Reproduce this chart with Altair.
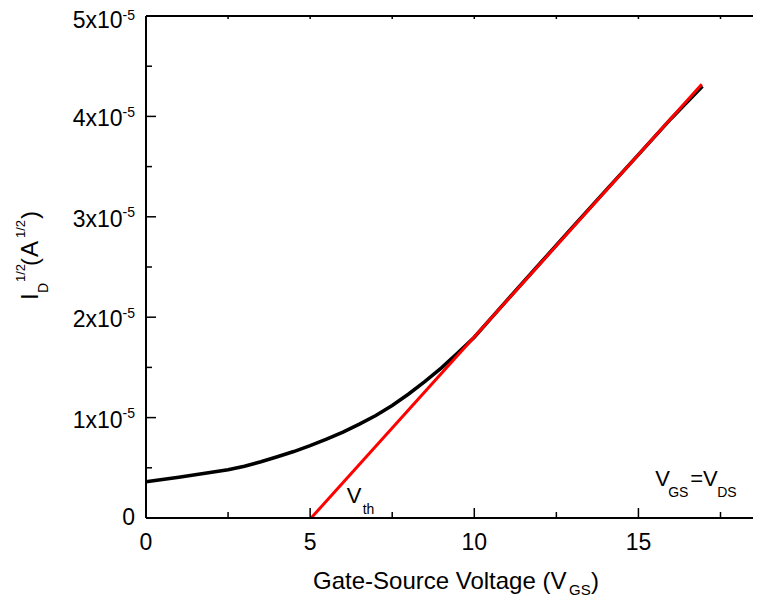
import altair as alt
import pandas as pd

# ---------------- data ----------------
vgs = [0, 1, 2, 2.5, 3, 3.5, 4, 4.5, 5, 5.5, 6, 6.5, 7, 7.5, 8, 8.5, 9, 9.5,
       10, 10.5, 11, 12, 13, 14, 15, 16, 16.95]
id_sqrt_e5 = [0.360, 0.405, 0.455, 0.480, 0.515, 0.560, 0.610, 0.662, 0.720,
              0.785, 0.855, 0.935, 1.020, 1.120, 1.235, 1.360, 1.495, 1.645,
              1.800, 1.985, 2.170, 2.535, 2.900, 3.260, 3.620, 3.980, 4.300]
fit_vgs = [5.03, 16.93]
fit_id = [0.0, 4.32e-5]

x_label_vals = [0, 5, 10, 15]
x_major = [5, 10, 15]
x_minor = [2.5, 7.5, 12.5, 17.5]
y_major = [1e-5, 2e-5, 3e-5, 4e-5]
y_minor = [0.5e-5, 1.5e-5, 2.5e-5, 3.5e-5, 4.5e-5]
y_label_vals = [1e-5, 2e-5, 3e-5, 4e-5]
y_label_mant = ["1x10", "2x10", "3x10", "4x10"]
y_top_val = [5e-5]
y_top_mant = ["5x10"]

# ---------------- layout ----------------
W, H = 607, 502
FONT = "Liberation Sans"
xs = alt.Scale(domain=[0, 18.49], nice=False, zero=False)
ys = alt.Scale(domain=[0, 5e-5], nice=False)

curve_df = pd.DataFrame({"V": vgs, "I": [v * 1e-5 for v in id_sqrt_e5]})
fit_df = pd.DataFrame({"V": fit_vgs, "I": fit_id})

X = alt.X("V:Q", scale=xs, axis=None)
Y = alt.Y("I:Q", scale=ys, axis=None)

curve = alt.Chart(curve_df).mark_line(color="black", strokeWidth=3.5).encode(x=X, y=Y)
fit = alt.Chart(fit_df).mark_line(color="#ff0000", strokeWidth=3).encode(x=X, y=Y)

one = alt.Data(values=[{}])


def hline(y0):
    return alt.Chart(one).mark_rule(color="black", strokeWidth=2).encode(
        y=alt.value(y0), x=alt.value(0), x2=alt.value(W))


left_line = alt.Chart(one).mark_rule(color="black", strokeWidth=2).encode(
    x=alt.value(0), y=alt.value(0), y2=alt.value(H))


def xticks(vals, length, y0, sign):
    df = pd.DataFrame({"V": vals})
    return alt.Chart(df).mark_rule(color="black", strokeWidth=1.5).encode(
        x=X, y=alt.value(y0), y2=alt.value(y0 + sign * length))


def yticks(vals, length):
    df = pd.DataFrame({"I": vals})
    return alt.Chart(df).mark_rule(color="black", strokeWidth=1.5).encode(
        y=Y, x=alt.value(0), x2=alt.value(length))


def txt_mark(align, size, dy=0):
    return dict(align=align, baseline="alphabetic", fontSize=size, font=FONT,
                color="black", dy=dy)


xlab = alt.Chart(pd.DataFrame({"V": x_label_vals})).mark_text(
    **txt_mark("center", 23)).encode(
    x=X, y=alt.value(H + 32), text=alt.Text("V:Q", format="d"))

ylab_df = pd.DataFrame({"I": y_label_vals, "t": y_label_mant})
ylab = alt.Chart(ylab_df).mark_text(**txt_mark("right", 23, 10)).encode(
    x=alt.value(-23.5), y=Y, text="t:N")
yexp = alt.Chart(ylab_df).mark_text(**txt_mark("left", 14, 0.5)).encode(
    x=alt.value(-23.5), y=Y, text=alt.value("-5"))
ytop_df = pd.DataFrame({"I": y_top_val, "t": y_top_mant})
ytop = alt.Chart(ytop_df).mark_text(**txt_mark("right", 23, 12)).encode(
    x=alt.value(-23.5), y=Y, text="t:N")
ytop_exp = alt.Chart(ytop_df).mark_text(**txt_mark("left", 14, 3.5)).encode(
    x=alt.value(-23.5), y=Y, text=alt.value("-5"))
yzero = alt.Chart(pd.DataFrame({"I": [0.0]})).mark_text(
    **txt_mark("right", 23, 6.5)).encode(
    x=alt.value(-11), y=Y, text=alt.value("0"))


def ptext(txt, px, py, size, angle=0):
    kw = txt_mark("left", size)
    if angle:
        kw["angle"] = angle
    return alt.Chart(one).mark_text(**kw).encode(
        x=alt.value(px), y=alt.value(py), text=alt.value(txt))


def dtext(txt, dx_, dy_, size):
    return alt.Chart(one).mark_text(**txt_mark("left", size)).encode(
        x=alt.datum(dx_, scale=xs), y=alt.datum(dy_, scale=ys),
        text=alt.value(txt))


# x title
xt = [ptext("Gate-Source Voltage (V", 167, 573, 24),
      ptext("GS", 423, 579, 15),
      ptext(")", 445, 573, 24)]
# y title (rotated)
yt = [ptext("I", -108, 284, 24, 270),
      ptext("D", -98, 277, 14, 270),
      ptext("1/2", -121, 266, 13, 270),
      ptext("(", -108, 250, 24, 270),
      ptext("A", -108, 241, 24, 270),
      ptext("1/2", -121, 222, 13, 270),
      ptext(")", -108, 203, 24, 270)]
# annotations
ann = [dtext("V", 6.115, 0.152e-5, 22),
       dtext("th", 6.60, 0.04e-5, 14),
       dtext("V", 15.51, 0.322e-5, 22),
       dtext("GS", 15.905, 0.214e-5, 14),
       dtext("=V", 16.575, 0.322e-5, 22),
       dtext("DS", 17.40, 0.214e-5, 14)]

chart = alt.layer(
    curve, fit,
    left_line, hline(H), hline(0),
    xticks(x_major, 10, H, -1), xticks(x_minor, 6, H, -1),
    xticks(x_major + x_minor, 3, 0, 1),
    yticks(y_major, 10), yticks(y_minor, 6),
    xlab, ylab, yexp, ytop, ytop_exp, yzero, *xt, *yt, *ann,
).properties(
    width=W, height=H,
    autosize=alt.AutoSizeParams(type="none"),
    padding={"left": 138, "top": 8, "right": 0, "bottom": 84},
).configure_view(stroke=None).configure(background="white")

chart.save("out.html", embed_options={"renderer": "svg", "actions": False})
